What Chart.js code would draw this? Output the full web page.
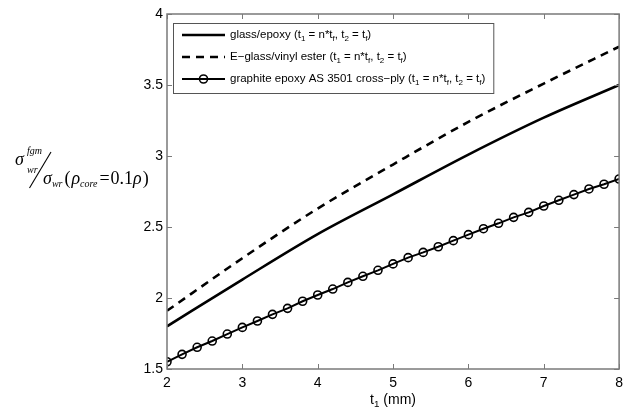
<!DOCTYPE html>
<html>
<head>
<meta charset="utf-8">
<script src="https://cdn.jsdelivr.net/npm/chart.js@4.4.1/dist/chart.umd.min.js"></script>
<style>
  html, body { margin: 0; padding: 0; background: #fff; }
  #wrap { width: 629px; height: 411px; }
</style>
</head>
<body>
<div id="wrap"><canvas id="c" width="629" height="411"></canvas></div>
<script>
// ---- data ----
const xTicks = [2, 3, 4, 5, 6, 7, 8];
const yTicks = [1.5, 2, 2.5, 3, 3.5, 4];

const xCoarse = [2, 3, 4, 5, 6, 7, 8];
const glassEpoxy = [1.80, 2.13, 2.45, 2.73, 3.01, 3.27, 3.50];
const eGlassVinylEster = [1.91, 2.28, 2.63, 2.94, 3.24, 3.51, 3.77];

const xFine = [2.0, 2.2, 2.4, 2.6, 2.8, 3.0, 3.2, 3.4, 3.6, 3.8, 4.0, 4.2, 4.4, 4.6, 4.8,
               5.0, 5.2, 5.4, 5.6, 5.8, 6.0, 6.2, 6.4, 6.6, 6.8, 7.0, 7.2, 7.4, 7.6, 7.8, 8.0];
const graphiteEpoxy = [1.551, 1.603, 1.653, 1.697, 1.746, 1.793, 1.838, 1.885, 1.927, 1.977,
                       2.021, 2.063, 2.110, 2.153, 2.195, 2.240, 2.284, 2.321, 2.361, 2.404,
                       2.446, 2.488, 2.526, 2.568, 2.603, 2.648, 2.688, 2.728, 2.768, 2.801, 2.838];

const seriesNames = [
  'glass/epoxy (t_{1} = n*t_{f}, t_{2} = t_{f})',
  'E\u2212glass/vinyl ester (t_{1} = n*t_{f}, t_{2} = t_{f})',
  'graphite epoxy AS 3501 cross\u2212ply (t_{1} = n*t_{f}, t_{2} = t_{f})'
];
const xTitle = 't_{1} (mm)';

// ---- helpers ----
function pts(xs, ys) { return xs.map((x, i) => ({ x: x, y: ys[i] })); }

function parseSub(str) {
  const out = [];
  const re = /_\{([^}]*)\}/g;
  let last = 0, m;
  while ((m = re.exec(str)) !== null) {
    if (m.index > last) out.push({ t: str.slice(last, m.index), sub: false });
    out.push({ t: m[1], sub: true });
    last = re.lastIndex;
  }
  if (last < str.length) out.push({ t: str.slice(last), sub: false });
  return out;
}

function drawRich(ctx, str, x, y, size, family) {
  const segs = parseSub(str);
  let cx = x;
  ctx.textBaseline = 'middle';
  ctx.textAlign = 'left';
  for (const s of segs) {
    if (s.sub) {
      ctx.font = (size * 0.7).toFixed(1) + 'px ' + family;
      ctx.fillText(s.t, cx, y + size * 0.3);
    } else {
      ctx.font = size + 'px ' + family;
      ctx.fillText(s.t, cx, y);
    }
    cx += ctx.measureText(s.t).width;
  }
  return cx - x;
}

function richWidth(ctx, str, size, family) {
  const segs = parseSub(str);
  let w = 0;
  for (const s of segs) {
    ctx.font = (s.sub ? (size * 0.7).toFixed(1) : size) + 'px ' + family;
    w += ctx.measureText(s.t).width;
  }
  return w;
}

const SANS = '"Liberation Sans", Arial, sans-serif';
const SERIF = '"Liberation Serif", "Times New Roman", serif';

const decorPlugin = {
  id: 'decor',
  afterDatasetsDraw(chart) {
    const ctx = chart.ctx;
    const a = chart.chartArea;
    const xs = chart.scales.x, ys = chart.scales.y;
    ctx.save();
    // axes box
    ctx.strokeStyle = '#7a7a7a';
    ctx.lineWidth = 1.5;
    ctx.strokeRect(a.left, a.top, a.right - a.left, a.bottom - a.top);
    // inward ticks on all sides
    const tl = 5;
    ctx.beginPath();
    for (const v of xTicks) {
      const px = Math.round(xs.getPixelForValue(v)) + 0.5;
      ctx.moveTo(px, a.bottom); ctx.lineTo(px, a.bottom - tl);
      ctx.moveTo(px, a.top); ctx.lineTo(px, a.top + tl);
    }
    for (const v of yTicks) {
      const py = Math.round(ys.getPixelForValue(v)) + 0.5;
      ctx.moveTo(a.left, py); ctx.lineTo(a.left + tl, py);
      ctx.moveTo(a.right, py); ctx.lineTo(a.right - tl, py);
    }
    ctx.lineWidth = 1;
    ctx.stroke();

    // legend
    const fs = 11.5;
    const lx = a.left + 6, ly = a.top + 9;
    const rowH = 22;
    let maxW = 0;
    for (const n of seriesNames) maxW = Math.max(maxW, richWidth(ctx, n, fs, SANS));
    const bw = 62 + maxW + 3;
    const bh = rowH * seriesNames.length + 4;
    ctx.fillStyle = '#fff';
    ctx.fillRect(lx, ly, bw, bh);
    ctx.strokeStyle = '#555';
    ctx.lineWidth = 1;
    ctx.strokeRect(lx + 0.5, ly + 0.5, bw, bh);
    chart.data.datasets.forEach((ds, i) => {
      const cy = ly + 12 + i * rowH;
      ctx.save();
      ctx.strokeStyle = ds.borderColor;
      ctx.lineWidth = ds.borderWidth;
      ctx.setLineDash(ds.borderDash || []);
      ctx.beginPath();
      ctx.moveTo(lx + 9, cy); ctx.lineTo(lx + 52, cy);
      ctx.stroke();
      ctx.setLineDash([]);
      if (ds.pointRadius > 0) {
        ctx.lineWidth = ds.pointBorderWidth;
        ctx.beginPath();
        ctx.arc(lx + 30.5, cy, ds.pointRadius, 0, Math.PI * 2);
        ctx.stroke();
      }
      ctx.restore();
      ctx.fillStyle = '#000';
      drawRich(ctx, seriesNames[i], lx + 57, cy, fs, SANS);
    });

    // x-axis title
    ctx.fillStyle = '#000';
    const tw = richWidth(ctx, xTitle, 14, SANS);
    drawRich(ctx, xTitle, (a.left + a.right) / 2 - tw / 2, 400, 14, SANS);

    // y-axis title (math expression)
    ctx.textBaseline = 'alphabetic';
    ctx.textAlign = 'left';
    const big = '18px ' + SERIF, bigI = 'italic 18px ' + SERIF, small = 'italic 10px ' + SERIF;
    ctx.font = bigI; ctx.fillText('\u03c3', 15, 165);
    ctx.font = small; ctx.fillText('fgm', 27, 154); ctx.fillText('wr', 27, 173);
    ctx.beginPath(); ctx.moveTo(29.5, 188); ctx.lineTo(51, 152);
    ctx.lineWidth = 1.1; ctx.strokeStyle = '#000'; ctx.stroke();
    let x = 43; const b = 184;
    ctx.font = bigI; ctx.fillText('\u03c3', x, b); x += ctx.measureText('\u03c3').width;
    ctx.font = small; ctx.fillText('wr', x, b + 3); x += ctx.measureText('wr').width + 2;
    ctx.font = big; ctx.fillText('(', x, b); x += ctx.measureText('(').width + 1;
    ctx.font = bigI; ctx.fillText('\u03c1', x, b); x += ctx.measureText('\u03c1').width;
    ctx.font = small; ctx.fillText('core', x, b + 3); x += ctx.measureText('core').width + 2;
    ctx.font = big; ctx.fillText('=', x, b); x += ctx.measureText('=').width + 1;
    ctx.fillText('0.1', x, b); x += ctx.measureText('0.1').width;
    ctx.font = bigI; ctx.fillText('\u03c1', x, b); x += ctx.measureText('\u03c1').width + 1;
    ctx.font = big; ctx.fillText(')', x, b);
    ctx.restore();
  }
};

new Chart(document.getElementById('c'), {
  type: 'line',
  data: {
    datasets: [
      { label: seriesNames[0], data: pts(xCoarse, glassEpoxy), borderColor: '#000', borderWidth: 2.6,
        pointRadius: 0, fill: false, cubicInterpolationMode: 'monotone' },
      { label: seriesNames[1], data: pts(xCoarse, eGlassVinylEster), borderColor: '#000', borderWidth: 2.6,
        borderDash: [8, 6], pointRadius: 0, fill: false, cubicInterpolationMode: 'monotone' },
      { label: seriesNames[2], data: pts(xFine, graphiteEpoxy), borderColor: '#000', borderWidth: 2,
        pointRadius: 4, pointBorderWidth: 1.6, pointBorderColor: '#000',
        pointBackgroundColor: 'rgba(0,0,0,0)', fill: false, tension: 0 }
    ]
  },
  options: {
    responsive: false,
    animation: false,
    events: [],
    layout: { padding: { left: 0, top: 14, right: 9, bottom: 0 } },
    plugins: { legend: { display: false }, tooltip: { enabled: false } },
    scales: {
      x: {
        type: 'linear', min: 2, max: 8,
        grid: { display: false, drawTicks: false },
        border: { display: false },
        afterBuildTicks: s => { s.ticks = xTicks.map(v => ({ value: v })); },
        afterFit: s => { s.height = 42; },
        ticks: { color: '#000', padding: 6, font: { family: SANS, size: 14 },
                 callback: v => String(v), maxRotation: 0, autoSkip: false }
      },
      y: {
        type: 'linear', min: 1.5, max: 4,
        grid: { display: false, drawTicks: false },
        border: { display: false },
        afterBuildTicks: s => { s.ticks = yTicks.map(v => ({ value: v })); },
        afterFit: s => { s.width = 167; },
        ticks: { color: '#000', padding: 4, font: { family: SANS, size: 14 },
                 callback: v => String(v), autoSkip: false }
      }
    }
  },
  plugins: [decorPlugin]
});
</script>
</body>
</html>
